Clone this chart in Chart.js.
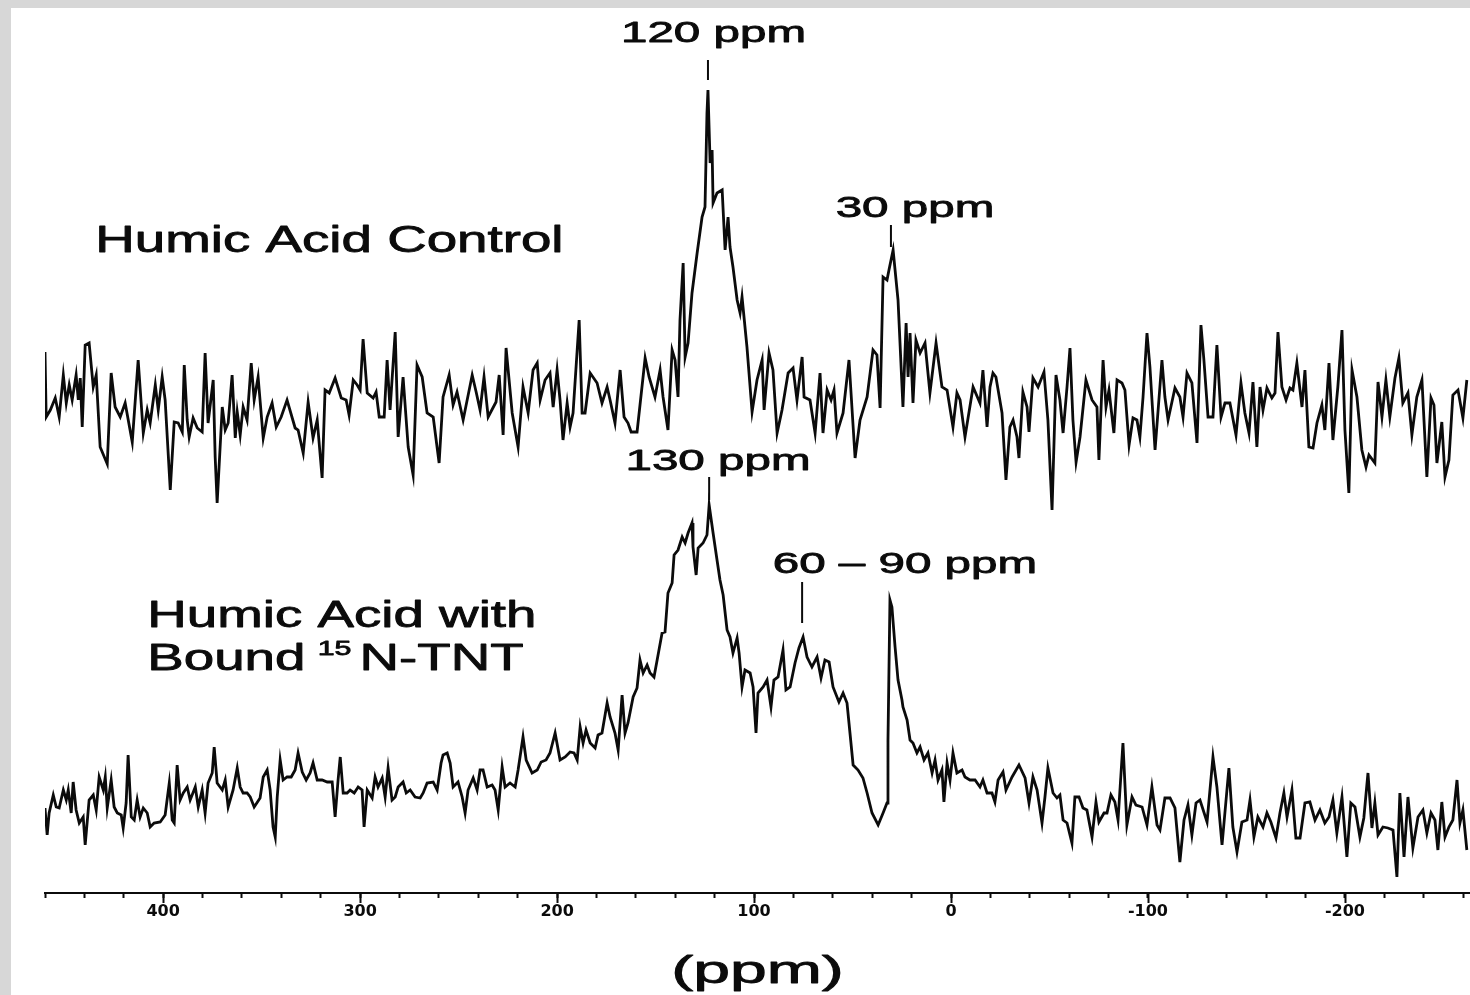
<!DOCTYPE html>
<html>
<head>
<meta charset="utf-8">
<title>15N NMR - Humic Acid</title>
<script src="https://cdn.jsdelivr.net/npm/chart.js@4.4.1/dist/chart.umd.min.js"></script>
<style>
  html, body { margin: 0; padding: 0; }
  body { width: 1470px; height: 995px; background: #d7d7d7; position: relative; overflow: hidden; }
  #panel { position: absolute; left: 11px; top: 8px; width: 1459px; height: 987px; background: #fff; }
  canvas { display: block; }
</style>
</head>
<body>
<div id="panel"><canvas id="spectrum" width="1459" height="987"></canvas></div>
<script>
// chemical shift axis (ppm), drawn high -> low
const ppmMin = -263.5;
const ppmMax = 460;
const tickStep = 20;
const labelledTicks = [400, 300, 200, 100, 0, -100, -200];

// plotted intensity, arbitrary units (the two traces are stacked)
const intensityMin = 107;
const intensityMax = 992;

// upper trace: Humic Acid Control
const controlPpm = [
  460, 459.4, 457.3, 454.8, 452.8, 450.7, 449.2, 447.7, 446.2, 444.2,
  443.1, 442.1, 441.1, 439.6, 437.6, 435.5, 434, 432, 428.4, 426.4,
  424.4, 421.8, 419.3, 415.7, 412.7, 410.1, 408.1, 406.6, 404, 402.5,
  400.5, 399, 396.4, 394.4, 392.4, 390.3, 389.3, 387.8, 386.8, 384.8,
  382.7, 380.2, 378.7, 377.2, 374.6, 373.6, 372.6, 370, 368.5, 367,
  365, 363.4, 362.4, 360.9, 359.4, 357.4, 355.3, 353.8, 351.8, 349.2,
  347.2, 344.7, 342.6, 340.1, 337.1, 333, 331.5, 328.9, 326.4, 323.9,
  321.8, 319.3, 317.8, 315.7, 312.7, 309.6, 307.1, 305.6, 303.5, 301.5,
  300, 298.5, 296.4, 293.4, 291.9, 290.3, 287.8, 286.3, 284.8, 282.2,
  280.7, 278.2, 275.6, 273.1, 271.1, 268.5, 266, 262.9, 259.9, 257.9,
  254.8, 252.8, 250.8, 247.7, 243.1, 241.1, 239.1, 237.1, 235, 231,
  229.4, 227.4, 225.9,
  222.8, 219.8, 217.3, 214.7, 212.2, 210.1, 208.6, 206.1, 203.6, 202,
  200, 198.5, 197, 194.9, 193.4, 191.9, 188.8, 187.3, 185.8, 183.2,
  179.7, 177.2, 174.6, 173.1, 170.6, 168, 166, 164, 162.4, 159.4,
  155.3, 153.3, 150.3, 147.7, 146.2, 143.7, 141.6, 140.1, 138.6, 137.6,
  136, 135, 133.5, 131.5, 128.9, 126.4, 124.9, 123.9, 123.4, 122.3,
  121.3, 120.8, 118.8, 116.2, 114.7, 113.2, 112.2, 110.7, 108.6, 107.1,
  106.1, 103.6, 101, 98.5, 95.9, 94.9, 92.4, 90.4, 88.3, 85.8,
  82.7, 80.2, 78.2, 75.6, 74.6, 71.6, 69, 66.5, 65, 62.9,
  60.9, 59.4, 57.9, 54.8, 51.8, 48.7, 46.2, 42.6, 39.6, 37.6,
  36, 34.5, 32.5, 31.5, 29.4, 26.9, 24.4, 22.8, 21.8, 20.8,
  19.3, 17.8, 15.7, 13.2, 10.7, 7.6, 4.6, 2, -1, -3,
  -4.6, -7.1, -11.2, -14.7,
  -16.2, -18.3, -19.8, -21.3, -22.8, -25.9, -27.9, -29.9, -31.5, -33.5,
  -34.5, -36.5, -38.6, -39.6, -41.6, -44.2, -47.2, -49.2, -51.3, -53.3,
  -55.3, -56.9, -58.9, -60.4, -61.9, -63.5, -65.5, -68.5, -71.6, -74.1,
  -75.1, -77.2, -78.7, -80.2, -82.7, -84.3, -86.8, -88.3, -90.4, -92.4,
  -94.4, -95.9, -97.5, -99.5, -101, -103.6, -107.1, -108.6, -110.2, -113.7,
  -116.2, -117.8, -119.8, -122.3, -124.9, -126.9, -128.4, -130.5, -133, -135,
  -137.1, -139.1, -141.6, -144.7, -147.2, -149.2, -151.3, -153.3, -155.3, -156.9,
  -158.4, -160.4, -162.9, -164.5, -166, -168, -170.1, -172.1, -173.6, -175.6,
  -178.2, -179.7, -181.7, -183.8, -185.8, -188.3, -189.8, -191.9, -193.9, -196.4,
  -198.5, -200, -202, -203.6, -206.1, -208.6, -210.7, -212.2, -215.2, -216.8,
  -218.8, -220.8, -222.8, -225.4, -227.4, -229.4, -232, -234, -236.5, -239.1,
  -241.6, -243.7, -245.2, -246.7, -249.2, -250.8, -252.8, -254.8, -257.4, -259.9,
  -261.9
];
const controlIntensity = [
  648, 583, 590, 602, 583, 625, 597, 615, 600, 625,
  600, 622, 573, 655, 657, 613, 625, 553, 536, 627,
  593, 583, 597, 558, 640, 567, 590, 577, 615, 590,
  623, 600, 510, 578, 577, 568, 635, 580, 563, 582,
  572, 568, 647, 577, 620, 543, 497, 593, 570, 577,
  625, 562, 588, 565, 593, 580, 637, 600, 623, 562,
  583, 597, 573, 583, 600, 572, 570, 547, 598, 562,
  580, 522, 610, 607, 622, 602, 600, 585, 620, 615,
  610, 661, 607, 602, 608, 583, 583, 640, 590, 668,
  563, 623, 553, 525, 635, 623, 587, 583, 537, 603,
  625, 595, 608, 580, 625, 608, 590, 623, 583, 598,
  625, 565, 652,
  587, 553, 613, 587, 630, 637, 600, 620, 627, 593,
  630, 600, 560, 597, 573, 587, 680, 587, 587, 627,
  617, 597, 613, 600, 577, 630, 583, 577, 568, 568,
  642, 623, 603, 630, 603, 570, 650, 640, 603, 680,
  737, 643, 657, 707, 747, 783, 793, 887, 910, 837,
  850, 797, 807, 810, 750, 783, 753, 733, 700, 687,
  703, 653, 588, 620, 640, 590, 647, 630, 567, 590,
  627, 632, 600, 643, 603, 600, 567, 627, 567, 610,
  600, 610, 567, 587, 640, 542, 580, 603, 650, 645,
  592, 723, 720, 730, 750, 700, 593, 677, 623, 667,
  597, 660, 647, 657, 607, 657, 613, 610, 573, 607,
  600, 563, 613, 597,
  630, 573, 613, 627, 623, 587, 520, 573, 580, 563,
  542, 608, 593, 568, 622, 613, 628, 580, 490, 625,
  600, 567, 613, 652, 580, 538, 563, 620, 600, 593,
  540, 640, 593, 610, 567, 620, 617, 610, 555, 582,
  580, 563, 603, 667, 633, 550, 640, 603, 580, 612,
  603, 583, 627, 617, 557, 675, 640, 583, 583, 655,
  583, 597, 597, 565, 617, 587, 567, 618, 553, 613,
  590, 612, 602, 607, 668, 613, 600, 612, 610, 637,
  593, 630, 553, 552, 577, 595, 570, 637, 560, 613,
  670, 570, 507, 630, 603, 550, 533, 545, 537, 618,
  583, 620, 583, 622, 642, 597, 607, 565, 603, 620,
  523, 602, 595, 537, 578, 523, 540, 605, 610, 582,
  620
];

// lower trace: Humic Acid with Bound 15N-TNT
const boundPpm = [
  460, 458.9, 457.9, 455.8, 454.3, 452.8, 450.7, 449.2, 448.2, 446.7,
  445.7, 444.2, 442.6, 440.6, 439.6, 437.6, 435.5, 434, 432.5, 430.4,
  429.4, 428.4, 426.4, 424.9, 423.3, 421.3, 420.3, 418.8, 417.8, 416.2,
  414.7, 413.2, 411.7, 410.1, 408.1, 406.6, 404.6, 401.5, 399, 396.9,
  395.4, 394.4, 392.9, 391.4, 389.8, 387.8, 386.3, 383.7, 382.2, 380.2,
  378.7, 377.2, 375.1, 374.1, 372.6, 370, 368.5, 367, 364.5, 362.4,
  360.9, 359.4, 357.4, 355.8, 353.8, 350.8, 349.2, 347.2, 345.7, 344.2,
  343.1, 342.1, 340.6, 339.1, 337.1, 335, 333, 331.5, 329.4, 327.4,
  325.4, 323.9, 321.8, 319.3, 316.7, 314.2, 312.7, 311.2, 310.1, 308.6,
  306.6, 305.1, 303, 301, 299, 298, 296.4, 293.9, 292.4, 290.9,
  288.8, 287.3, 285.8, 283.8, 282.2, 280.7, 278.2, 276.6, 274.6, 272.1,
  269.5, 268, 266, 262.9, 260.9, 258.9, 257.9, 255.8, 254.3, 252.8,
  250.3, 248.2, 246.7, 245.2, 242.6, 240.6, 239.1, 237.6, 235.5, 233,
  231.5, 229.9, 227.9, 226.4, 223.9,
  221.3, 219.8, 217.3, 215.7, 212.7, 210.1, 208.1, 205.6, 203.6, 201,
  198.5, 195.9, 193.4, 191.4, 189.8, 188.3, 186.8, 185.3, 183.2, 180.7,
  179.2, 177.2, 174.6, 173.1, 170.6, 169, 167, 165.5, 164, 161.4,
  159.4, 157.9, 156.3, 154.3, 152.8, 150.8, 149.2, 146.7, 145.2, 143.7,
  141.6, 140.6, 138.6, 136.5, 135, 133.5, 131.5, 131, 129.4, 128.4,
  125.9, 123.9, 122.8, 120.8, 118.8, 117.3, 115.7, 113.7, 112.2, 110.7,
  108.6, 107.6, 106.1, 104.6, 102, 100.5, 99, 98, 95.4, 93.4,
  91.4, 89.9, 87.8, 85.3, 83.8, 81.7, 79.2, 77.2, 75.1, 73.1,
  70.6, 68, 66, 64, 61.9, 59.9, 56.9, 54.8, 52.8, 51.3,
  49.7, 47.2, 44.7, 42.6, 40.1, 37, 34.5, 32.5, 32, 31,
  30, 28.4, 26.9, 24.9, 24.4, 22.3, 20.8, 19.3, 17.3, 15.7,
  13.7, 11.7, 9.6, 8.1, 6.6, 4.6, 3.6, 2, 0.5, -1,
  -3, -5.6, -7.1, -9.6, -12.2, -14.7,
  -16.2, -18.3, -20.8, -22.3, -23.9, -26.4, -27.9, -31, -34.5, -37.6,
  -39.6, -41.6, -43.7, -46.2, -47.7, -49.2, -51.8, -53.8, -55.3, -56.9,
  -58.9, -61.4, -62.9, -65, -67, -69, -71.6, -73.6, -75.1, -77.7,
  -79.2, -81.2, -83.2, -84.8, -87.3, -89.3, -91.9, -93.9, -97, -99.5,
  -102, -104.6, -106.1, -108.6, -111.2, -113.7, -116.2, -118.3, -120.3, -122.3,
  -124.4, -126.4, -130, -133, -135, -137.6, -140.1, -141.1, -143.1, -145.2,
  -147.7, -150.3, -151.8, -153.8, -155.8, -158.4, -160.4, -162.4, -165, -167,
  -169, -170.6, -173.1, -175.1, -177.2, -179.7, -182.2, -184.8, -187.3, -189.8,
  -191.9, -193.9, -195.9, -198.5, -201, -203, -205.1, -207.6, -209.6, -211.7,
  -213.7, -215.2, -216.8, -219.3, -221.8, -224.4, -226.4, -227.9, -230, -232,
  -234.5, -237.1, -239.6, -241.6, -243.7, -245.7, -247.2, -249.2, -250.8, -252.8,
  -254.8, -256.9, -258.4, -259.9, -261.9
];
const boundIntensity = [
  192, 165, 187, 205, 193, 192, 210, 200, 210, 187,
  218, 190, 177, 183, 155, 200, 205, 190, 223, 210,
  223, 192, 220, 193, 187, 185, 172, 197, 245, 183,
  180, 200, 183, 192, 187, 173, 177, 178, 185, 217,
  180, 177, 235, 200, 207, 213, 200, 213, 193, 210,
  187, 217, 227, 253, 217, 210, 220, 193, 210, 232,
  213, 207, 207, 203, 193, 202, 223, 230, 210, 173,
  163, 203, 240, 220, 223, 223, 230, 247, 228, 220,
  227, 237, 220, 220, 218, 218, 183, 220, 243, 207,
  207, 210, 207, 213, 210, 173, 210, 202, 223, 213,
  222, 203, 232, 200, 203, 213, 218, 207, 210, 203,
  202, 207, 217, 218, 210, 237, 245, 247, 237, 213,
  218, 203, 187, 210, 222, 210, 230, 230, 213, 215,
  210, 190, 233, 213, 217,
  213, 230, 263, 240, 227, 230, 238, 240, 247, 267,
  240, 243, 248, 247, 240, 273, 257, 270, 257, 252,
  265, 267, 297, 283, 267, 250, 305, 267, 277, 303,
  312, 340, 327, 335, 327, 323, 340, 367, 368, 407,
  417, 445, 450, 463, 457, 467, 477, 453, 425, 452,
  457, 465, 495, 467, 440, 420, 405, 370, 363, 347,
  362, 347, 313, 330, 327, 313, 267, 307, 313, 320,
  293, 320, 323, 350, 310, 313, 337, 352, 363, 343,
  333, 343, 322, 340, 338, 313, 298, 307, 297, 267,
  235, 230, 222, 207, 187, 175, 187, 197, 260, 400,
  393, 353, 320, 300, 293, 280, 260, 257, 247, 253,
  240, 247, 227, 240, 220, 230, 198, 237, 220, 247,
  227, 230, 223, 220, 220, 213,
  220, 207, 207, 198, 220, 228, 210, 223, 235, 222,
  197, 223, 210, 177, 203, 232, 207, 202, 205, 180,
  177, 157, 203, 203, 192, 190, 163, 198, 178, 187,
  187, 205, 198, 180, 257, 175, 203, 195, 193, 175,
  213, 175, 170, 202, 202, 192, 138, 180, 195, 165,
  197, 200, 178, 243, 213, 155, 210, 232, 173, 148,
  178, 180, 200, 163, 183, 173, 187, 178, 162, 187,
  207, 183, 210, 162, 162, 197, 198, 180, 190, 177,
  183, 200, 167, 203, 143, 197, 193, 163, 182, 227,
  172, 197, 165, 173, 172, 170, 123, 207, 143, 203,
  152, 183, 190, 167, 187, 180, 150, 198, 163, 173,
  180, 220, 177, 190, 150
];

// peak annotations
const peakLabels = ["120 ppm", "30 ppm", "130 ppm", "60 \u2013 90 ppm"];
const peakLabelPpm = [120.6, 18.3, 118.3, 23.4];
const peakLabelLevel = [958, 783, 530, 427];
const peakMarkPpm = [123.4, 30.5, 122.8, 75.6];
const peakMarkTop = [940, 775, 523, 418];
const peakMarkBottom = [920, 753, 500, 377];

// trace names
const traceNames = ["Humic Acid Control", "Humic Acid with"];
const traceNamePpm = [434.5, 408.1];
const traceNameLevel = [748, 373];
const boundLine = ["Bound ", "15", "N-TNT"];
const boundLineLevel = 330;

const INK = "#0b0b0b";
const SANS = '"Liberation Sans", Arial, Helvetica, sans-serif';

function stretchedText(ctx, text, x, y, size, sx, align) {
  ctx.save();
  ctx.font = size + "px " + SANS;
  ctx.textAlign = align;
  ctx.textBaseline = "alphabetic";
  ctx.fillStyle = INK;
  ctx.strokeStyle = INK;
  ctx.lineWidth = 0.8;
  ctx.lineJoin = "round";
  ctx.translate(x, y);
  ctx.scale(sx, 1);
  ctx.fillText(text, 0, 0);
  ctx.strokeText(text, 0, 0);
  const w = ctx.measureText(text).width * sx;
  ctx.restore();
  return w;
}

const spectrumDecor = {
  id: "spectrumDecor",
  afterDraw(chart) {
    const { ctx, chartArea } = chart;
    const xs = chart.scales.x;
    const ys = chart.scales.y;

    ctx.save();
    ctx.strokeStyle = INK;
    ctx.lineWidth = 2;

    // longer ticks at the labelled values
    xs.ticks.forEach((t) => {
      if (!labelledTicks.includes(t.value)) return;
      const px = Math.round(xs.getPixelForValue(t.value)) + 0.5;
      ctx.beginPath();
      ctx.moveTo(px, chartArea.bottom);
      ctx.lineTo(px, chartArea.bottom + 10);
      ctx.stroke();
    });

    // peak marker lines
    peakMarkPpm.forEach((p, i) => {
      const px = xs.getPixelForValue(p);
      ctx.beginPath();
      ctx.moveTo(px, ys.getPixelForValue(peakMarkTop[i]));
      ctx.lineTo(px, ys.getPixelForValue(peakMarkBottom[i]));
      ctx.stroke();
    });
    ctx.restore();

    peakLabels.forEach((txt, i) => {
      stretchedText(ctx, txt, xs.getPixelForValue(peakLabelPpm[i]),
        ys.getPixelForValue(peakLabelLevel[i]), 29, 1.64, "center");
    });

    traceNames.forEach((txt, i) => {
      stretchedText(ctx, txt, xs.getPixelForValue(traceNamePpm[i]),
        ys.getPixelForValue(traceNameLevel[i]), 36, 1.52, "left");
    });

    // "Bound 15N-TNT" with superscript mass number
    let bx = xs.getPixelForValue(traceNamePpm[1]);
    const by = ys.getPixelForValue(boundLineLevel);
    bx += stretchedText(ctx, boundLine[0], bx, by, 36, 1.52, "left");
    bx += stretchedText(ctx, boundLine[1], bx - 3, by - 15, 20, 1.52, "left") + 5;
    stretchedText(ctx, boundLine[2], bx, by, 36, 1.52, "left");

    // axis title
    stretchedText(ctx, "(ppm)", (chartArea.left + chartArea.right) / 2,
      chartArea.bottom + 90, 38, 1.74, "center");
  }
};

const toPoints = (xsArr, ysArr) => xsArr.map((p, i) => ({ x: p, y: ysArr[i] }));

new Chart(document.getElementById("spectrum"), {
  type: "line",
  data: {
    datasets: [
      {
        label: "Humic Acid Control",
        data: toPoints(controlPpm, controlIntensity),
        borderColor: INK,
        borderWidth: 2.8,
        pointRadius: 0,
        tension: 0,
        fill: false,
      },
      {
        label: "Humic Acid with Bound 15N-TNT",
        data: toPoints(boundPpm, boundIntensity),
        borderColor: INK,
        borderWidth: 2.8,
        pointRadius: 0,
        tension: 0,
        fill: false,
      },
    ],
  },
  options: {
    responsive: false,
    animation: false,
    devicePixelRatio: 1,
    layout: { padding: { left: 34, top: 0, right: 0, bottom: 0 } },
    plugins: {
      legend: { display: false },
      tooltip: { enabled: false },
    },
    scales: {
      x: {
        type: "linear",
        reverse: true,
        min: ppmMin,
        max: ppmMax,
        border: { display: true, color: INK, width: 2 },
        grid: {
          drawOnChartArea: false,
          drawTicks: true,
          tickLength: 5,
          tickWidth: 2,
          tickColor: INK,
        },
        ticks: {
          stepSize: tickStep,
          includeBounds: false,
          autoSkip: false,
          maxRotation: 0,
          minRotation: 0,
          padding: 4,
          color: INK,
          font: { family: '"DejaVu Sans", sans-serif', size: 16, weight: "bold" },
          callback: (v) => (labelledTicks.includes(v) ? String(v) : ""),
        },
        afterFit: (scale) => {
          scale.height = 102;
          scale.paddingLeft = 0;
          scale.paddingRight = 0;
        },
      },
      y: {
        type: "linear",
        display: false,
        min: intensityMin,
        max: intensityMax,
      },
    },
  },
  plugins: [spectrumDecor],
});
</script>
</body>
</html>
